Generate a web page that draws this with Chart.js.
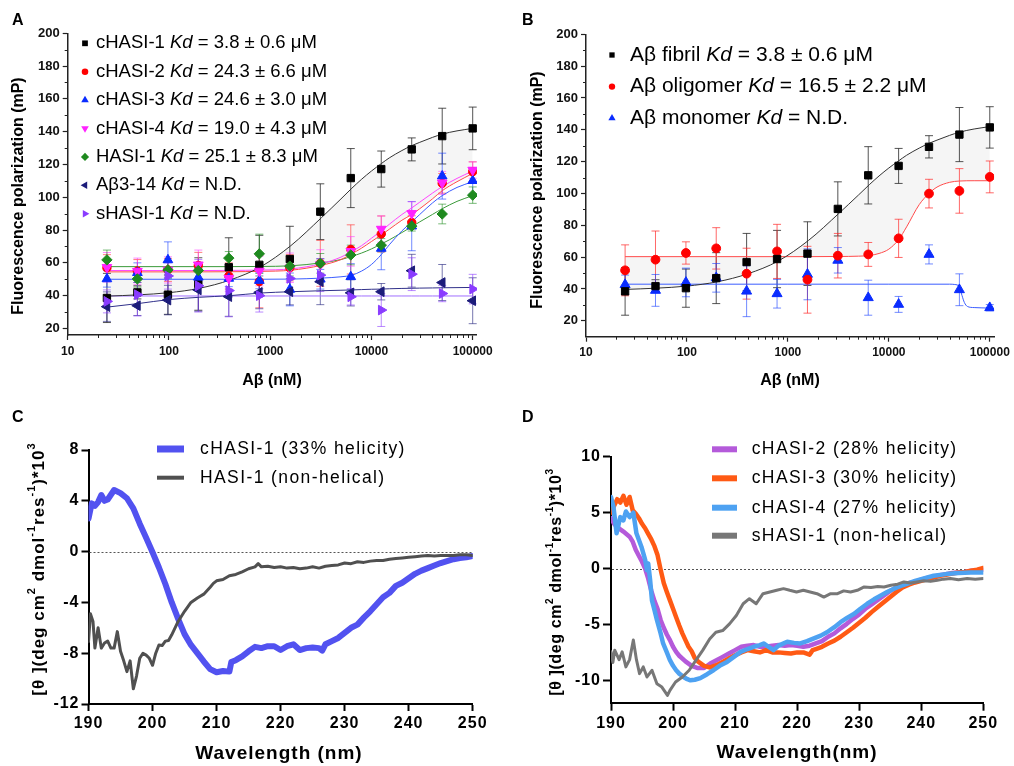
<!DOCTYPE html>
<html><head><meta charset="utf-8">
<script src="https://cdn.jsdelivr.net/npm/chart.js@4.4.1/dist/chart.umd.min.js"></script>
<style>
html,body{margin:0;padding:0;background:#fff;}
#wrap{position:relative;width:1014px;height:766px;overflow:hidden;background:#fff;}
#wrap canvas{position:absolute;left:0;top:0;}
</style></head><body>
<div id="wrap">
<canvas id="cA" width="1014" height="766"></canvas>
<canvas id="cB" width="1014" height="766"></canvas>
<canvas id="cC" width="1014" height="766"></canvas>
<canvas id="cD" width="1014" height="766"></canvas>
</div>
<script>
// ---------------- DATA ----------------
const CONC = [24.4, 48.8, 97.7, 195, 390, 781, 1563, 3125, 6250, 12500, 25000, 50000, 100000];

// Panel A points (mP) and SD
const A_CHASI1 = [38.6, 42, 40.6, 47.1, 57.3, 58.8, 62.3, 91.2, 111.7, 117.2, 129.2, 137.3, 142];
const A_CHASI1_ERR = [15, 4, 12, 16, 18, 18, 20, 17, 18, 11, 7, 17, 13];
const A_CHASI2 = [57, 55, 55.7, 58.4, 52, 48.6, 57, 59.7, 68.2, 77.6, 84.7, 108.5, 115.6];
const A_CHASI2_ERR = [8, 7, 7, 8, 8, 16, 8, 14, 15, 11, 4, 6, 6];
const A_CHASI3 = [50.2, 54, 61.8, 51.2, 50.5, 49.2, 43.8, 50, 51.5, 68.8, 82.4, 112.9, 110.1];
const A_CHASI3_ERR = [5, 6, 11, 5, 5, 5, 10, 6, 8, 13, 15, 14, 8];
const A_CHASI4 = [57.3, 54.9, 55.7, 58.8, 50.6, 55, 57, 59, 67, 80.6, 90.2, 108.8, 116.6];
const A_CHASI4_ERR = [9, 8, 8, 9, 8, 9, 9, 9, 9, 8, 7, 7, 5];
const A_HASI1 = [61.8, 50.2, 55.7, 55.3, 62.9, 65.5, 58, 59.7, 64.8, 70.8, 82.4, 89.8, 101.3];
const A_HASI1_ERR = [6, 5, 5, 5, 4, 12, 6, 6, 6, 4, 3, 6, 5];
const A_AB314 = [33.3, 33.9, 37.3, 43.5, 39.4, 42, 42.4, 48.5, 41.7, 42.4, 55.2, 48, 36.9];
const A_AB314_ERR = [9, 6, 9, 13, 12, 10, 8, 14, 8, 5, 10, 11, 14];
const A_SHASI1 = [36.5, 40.6, 52, 46, 43.1, 40, 50.5, 52.5, 39.3, 31.2, 53.1, 41.3, 44];
const A_SHASI1_ERR = [7, 13, 8, 16, 16, 10, 7, 10, 5, 10, 10, 5, 9];

// fitted curves
const FIT_X = [24.4, 50, 100, 200, 400, 800, 1600, 3200, 5000, 6400, 8000, 10000, 12500, 15000, 20000, 25000, 30000, 40000, 50000, 70000, 100000];
const FIT_CHASI1 = [39.7, 40.5, 41.8, 44.5, 49.5, 57.5, 70.5, 87.5, 99, 105.5, 111, 116, 120.5, 124, 128.5, 131.5, 133.5, 136.5, 138.5, 140.5, 142];
const FIT_CHASI2 = [54.5, 54.5, 54.5, 54.5, 54.6, 54.8, 55.5, 58.5, 62, 65.5, 69, 73, 77, 80.5, 86, 89.5, 93, 99, 104, 109.5, 114.5];
const FIT_CHASI3 = [50, 50, 50, 50, 50, 50, 50.1, 50.7, 51.5, 52.5, 55, 59, 65, 71, 79.5, 85, 89.5, 96.5, 101, 106, 109.5];
const FIT_CHASI4 = [55.3, 55.3, 55.3, 55.3, 55.4, 55.6, 56.3, 59.5, 63.5, 67, 70.5, 75, 79.5, 83.5, 89.5, 93.5, 97, 102.5, 106.5, 111.5, 116];
const FIT_HASI1 = [57.7, 57.7, 57.7, 57.7, 57.7, 57.8, 58.2, 60, 62, 64, 66, 68.5, 71.5, 74, 78.5, 82, 85, 89.5, 93, 97.5, 101];
const FIT_AB314 = [33, 35.2, 37.6, 39, 40, 41.6, 42.4, 43, 43.3, 43.5, 43.7, 43.9, 44, 44.2, 44.4, 44.5, 44.6, 44.7, 44.8, 44.9, 45];
const FIT_SHASI1 = [39.8, 39.8, 39.8, 39.8, 39.8, 39.8, 39.8, 39.8, 39.8, 39.8, 39.8, 39.8, 39.8, 39.8, 39.8, 39.8, 39.8, 39.8, 39.8, 39.8, 39.8];

const A_NAMES = ['cHASI-1', 'cHASI-2', 'cHASI-3', 'cHASI-4', 'HASI-1', 'A\u03b23-14', 'sHASI-1'];
const A_KD = ['3.8 \u00b1 0.6 \u03bcM', '24.3 \u00b1 6.6 \u03bcM', '24.6 \u00b1 3.0 \u03bcM', '19.0 \u00b1 4.3 \u03bcM', '25.1 \u00b1 8.3 \u03bcM', 'N.D.', 'N.D.'];

// Panel B
const B_FIBRIL = [38.5, 41.8, 40.5, 46.8, 56.9, 58.8, 62.2, 90.3, 111.4, 117.3, 129.3, 137, 141.5];
const B_FIBRIL_ERR = [15, 4, 12, 16, 18, 18, 20, 17, 18, 11, 7, 17, 13];
const B_OLIGO = [51.7, 58.4, 62.6, 65.5, 49.6, 63.6, 45.8, 60.9, 61.7, 71.8, 99.9, 101.6, 110.4];
const B_OLIGO_ERR = [16, 18, 7, 13, 16, 17, 21, 14, 7.5, 12, 9, 14, 10];
const B_MONO = [42.7, 39.1, 44.1, 47, 38.6, 37, 49.2, 58, 34.5, 30.3, 61.7, 39.5, 28.2];
const B_MONO_ERR = [6, 10, 9, 9, 16, 9, 16, 8, 11, 5, 6, 10, 2];
const FIT_FIBRIL = FIT_CHASI1;
const FIT_OLIGO = [60.3, 60.3, 60.3, 60.3, 60.3, 60.3, 60.3, 60.4, 60.6, 61, 62.3, 65, 71, 79, 93, 100, 104, 107, 107.8, 108, 108];
const FIT_MONO_X = [24.4, 1000, 10000, 40000, 45000, 50000, 53000, 56000, 60000, 70000, 100000];
const FIT_MONO = [43, 43, 43, 43, 42.8, 41.3, 36, 31.5, 29, 28.3, 28];
const B_NAMES = ['A\u03b2 fibril', 'A\u03b2 oligomer', 'A\u03b2 monomer'];
const B_KD = ['3.8 \u00b1 0.6 \u03bcM', '16.5 \u00b1 2.2 \u03bcM', 'N.D.'];

// ticks for A/B
const LOG_TICKS = [10, 100, 1000, 10000, 100000];
const LOG_TICK_LABELS = ['10', '100', '1000', '10000', '100000'];
const MP_TICKS = [20, 40, 60, 80, 100, 120, 140, 160, 180, 200];
const MP_TICK_LABELS = ['20', '40', '60', '80', '100', '120', '140', '160', '180', '200'];

// Panel C: CD spectra [wavelength nm, [theta]*10^-3]
const C_CHASI1 = [[190,2.6],[190.5,3.8],[191,3.6],[191.5,3.9],[192,4.45],[192.5,4.0],[193,4.1],[194,4.85],[195,4.6],[196,4.2],[197,3.4],[198,2.2],[199,1.1],[200,-0.05],[201,-1.25],[202,-2.55],[203,-4.0],[204,-5.3],[205,-6.5],[206,-7.35],[207,-8.0],[208,-8.65],[209,-9.25],[210,-9.5],[211,-9.4],[212,-9.45],[212.3,-8.7],[213,-8.55],[214,-8.25],[215,-7.85],[216,-7.5],[217,-7.6],[218,-7.45],[219,-7.45],[220,-7.75],[221,-7.45],[222,-7.3],[223,-7.75],[224,-7.6],[225,-7.55],[226,-7.6],[226.5,-7.8],[227,-7.3],[228,-7.05],[229,-6.8],[230,-6.4],[231,-6.0],[232,-5.75],[233,-5.2],[234,-4.7],[235,-4.15],[236,-3.6],[237,-3.25],[238,-2.7],[239,-2.45],[240,-2.1],[241,-1.75],[242,-1.5],[243,-1.3],[244,-1.1],[245,-0.9],[246,-0.75],[247,-0.6],[248,-0.5],[249,-0.45],[250,-0.35]];
const C_HASI1 = [[190,-7.1],[190.3,-4.9],[190.7,-5.5],[191,-7.6],[191.5,-6.0],[192,-7.6],[192.5,-7.2],[193,-7.05],[193.5,-7.6],[194,-7.6],[194.5,-6.3],[195,-7.85],[195.5,-8.6],[196,-9.45],[196.5,-8.6],[197,-10.8],[197.5,-9.8],[198,-8.4],[198.5,-8.0],[199,-8.15],[199.5,-8.4],[200,-8.95],[200.5,-8.0],[201,-7.35],[201.5,-7.4],[202,-7.05],[202.5,-7.0],[203,-6.55],[204,-5.5],[205,-4.7],[206,-4.0],[207,-3.65],[208,-3.35],[209,-2.8],[209.5,-2.5],[210,-2.3],[211,-2.2],[212,-1.9],[213,-1.8],[214,-1.6],[215,-1.35],[216,-1.2],[216.5,-0.95],[217,-1.2],[218,-1.15],[219,-1.25],[220,-1.2],[221,-1.3],[222,-1.25],[223,-1.35],[224,-1.3],[225,-1.2],[226,-1.3],[227,-1.15],[228,-1.1],[229,-1.05],[230,-0.9],[231,-0.95],[232,-0.8],[233,-0.85],[234,-0.75],[235,-0.7],[236,-0.7],[237,-0.6],[238,-0.55],[239,-0.5],[240,-0.45],[241,-0.4],[242,-0.35],[243,-0.3],[244,-0.35],[245,-0.3],[246,-0.3],[247,-0.3],[248,-0.25],[249,-0.25],[250,-0.3]];
const C_NAMES = ['cHASI-1 (33% helicity)', 'HASI-1 (non-helical)'];

// Panel D
const D_CHASI2 = [[190,4.5],[190.5,4.0],[191,3.7],[192,3.3],[193,2.85],[193.5,2.4],[194,1.65],[195,0.6],[195.5,0.0],[196,-0.9],[196.5,-2.0],[197,-2.9],[197.5,-3.6],[198,-4.6],[198.5,-5.3],[199,-5.9],[199.5,-6.4],[200,-7.0],[200.5,-7.45],[201,-7.8],[202,-8.3],[203,-8.7],[204,-8.9],[205,-8.9],[206,-8.5],[207,-8.2],[208,-7.9],[209,-7.6],[210,-7.3],[211,-7.0],[212,-6.9],[213,-6.85],[214,-7.0],[215,-7.0],[216,-6.9],[217,-6.85],[218,-6.9],[219,-6.85],[220,-6.9],[221,-7.0],[222,-6.9],[223,-6.7],[224,-6.5],[225,-6.1],[226,-5.8],[227,-5.35],[228,-4.95],[229,-4.5],[230,-4.1],[231,-3.6],[232,-3.2],[233,-2.8],[234,-2.4],[235,-2.0],[236,-1.7],[237,-1.45],[238,-1.3],[239,-1.2],[240,-1.0],[241,-0.85],[242,-0.75],[243,-0.6],[244,-0.5],[245,-0.4],[246,-0.35],[247,-0.3],[248,-0.2],[249,-0.15],[250,-0.1]];
const D_CHASI3 = [[190,5.0],[190.5,5.6],[191,6.2],[191.5,5.9],[192,6.5],[192.5,5.7],[193,6.4],[193.5,5.2],[194,4.9],[194.5,4.5],[195,4.0],[195.5,3.6],[196,3.1],[196.5,2.6],[197,2.0],[197.5,1.2],[198,-0.1],[198.5,-1.3],[199,-2.1],[199.5,-2.85],[200,-3.6],[200.5,-4.35],[201,-5.1],[201.5,-5.8],[202,-6.4],[202.5,-7.0],[203,-7.4],[203.5,-8.0],[204,-8.3],[205,-8.7],[206,-8.85],[207,-8.65],[208,-8.35],[209,-8.05],[210,-7.75],[211,-7.5],[212,-7.3],[213,-7.4],[214,-7.5],[215,-7.3],[216,-7.5],[217,-7.5],[218,-7.55],[219,-7.6],[220,-7.5],[221,-7.5],[222,-7.7],[222.5,-7.3],[223,-7.2],[224,-7.0],[225,-6.7],[226,-6.45],[227,-6.1],[228,-5.7],[229,-5.3],[230,-4.85],[231,-4.4],[232,-3.9],[233,-3.45],[234,-3.0],[235,-2.55],[236,-2.1],[237,-1.7],[238,-1.45],[239,-1.25],[240,-1.1],[241,-0.95],[242,-0.8],[243,-0.65],[244,-0.55],[245,-0.45],[246,-0.35],[247,-0.3],[248,-0.2],[249,-0.1],[250,0.05]];
const D_CHASI4 = [[190,6.4],[190.4,5.5],[190.9,3.15],[191.5,4.6],[192,4.3],[192.4,5.1],[193,4.6],[193.6,5.0],[194.1,3.15],[194.9,1.95],[195.5,0.8],[195.8,-0.15],[196,0.45],[196.3,-1.0],[196.6,-2.85],[197,-3.7],[197.4,-4.6],[198,-5.8],[198.4,-6.7],[199,-7.5],[199.5,-8.2],[200,-8.7],[200.5,-9.1],[201,-9.4],[201.7,-9.7],[202.3,-9.9],[202.8,-10.0],[203.5,-9.95],[204.4,-9.8],[205.5,-9.45],[206.5,-9.1],[207.5,-8.7],[208.7,-8.35],[209.8,-7.9],[210.9,-7.45],[212,-7.2],[213,-7.0],[214,-6.85],[214.6,-6.7],[215.4,-7.0],[216.2,-7.3],[217,-6.9],[218.4,-6.55],[219.5,-6.65],[220.5,-6.7],[221.6,-6.5],[222.7,-6.25],[223.8,-6.0],[224.8,-5.7],[226,-5.25],[227,-4.8],[228.1,-4.4],[229.2,-4.05],[230.2,-3.6],[231.3,-3.15],[232.4,-2.75],[233.5,-2.4],[234.5,-2.1],[235.6,-1.8],[236.7,-1.55],[237.8,-1.35],[239,-1.1],[240,-0.95],[242,-0.65],[244,-0.5],[246,-0.4],[248,-0.35],[250,-0.35]];
const D_SHASI1 = [[190,-7.45],[190.3,-8.4],[190.6,-7.3],[191.3,-8.15],[191.8,-7.45],[192.4,-8.8],[193,-8.15],[193.6,-6.4],[194.1,-8.15],[194.6,-9.4],[195.2,-8.8],[195.8,-9.7],[196.6,-9.1],[197.4,-10.3],[198.2,-10.6],[199.1,-11.35],[199.5,-10.9],[200.4,-10.15],[201.5,-9.7],[202.6,-9.1],[203.7,-8.2],[204.8,-7.3],[205.9,-6.3],[206.9,-5.7],[208,-5.55],[209.1,-4.95],[210.2,-4.2],[211.3,-3.15],[212.3,-2.7],[213.4,-3.15],[214.5,-2.25],[215.6,-2.1],[216.7,-1.95],[217.8,-1.8],[218.8,-1.95],[219.9,-2.1],[221,-1.95],[222.1,-2.1],[223.2,-2.25],[224.3,-2.55],[225.4,-2.25],[226.5,-2.25],[227.5,-2.0],[228.6,-2.1],[229.7,-1.95],[230.8,-1.65],[231.9,-1.7],[233,-1.6],[234,-1.65],[235.1,-1.5],[236.2,-1.4],[237.2,-1.2],[238.3,-1.3],[239.3,-1.2],[240.4,-1.1],[241.5,-1.15],[242.6,-1.05],[243.6,-0.95],[244.7,-0.9],[246,-1.0],[247.4,-0.9],[248.7,-0.95],[250,-0.9]];
const D_NAMES = ['cHASI-2 (28% helicity)', 'cHASI-3 (30% helicity)', 'cHASI-4 (27% helicity)', 'sHASI-1 (non-helical)'];

const WL_TICKS = [190, 200, 210, 220, 230, 240, 250];
const WL_TICK_LABELS = ['190', '200', '210', '220', '230', '240', '250'];
const C_Y_TICKS = [-12, -8, -4, 0, 4, 8];
const C_Y_TICK_LABELS = ['-12', '-8', '-4', '0', '4', '8'];
const D_Y_TICKS = [-10, -5, 0, 5, 10];
const D_Y_TICK_LABELS = ['-10', '-5', '0', '5', '10'];

const CD_YTITLE = [{t:'[\u03b8 ](deg cm'},{t:'2',sup:1},{t:' dmol'},{t:'-1',sup:1},{t:'res'},{t:'-1',sup:1},{t:')*10'},{t:'3',sup:1}];

// ---------------- HELPERS ----------------
const FAMILY = "'Liberation Sans', Arial, Helvetica, sans-serif";
Chart.defaults.font.family = FAMILY;
Chart.defaults.color = '#000';
const W = 1014, H = 766;

function txt(ctx, segs, x, y, o) {
  ctx.save();
  ctx.translate(x, y);
  if (o.rot) ctx.rotate(-Math.PI / 2);
  try { ctx.letterSpacing = (o.ls || 0) + 'px'; } catch (e) {}
  ctx.fillStyle = o.color || '#000';
  ctx.textBaseline = 'middle';
  ctx.textAlign = 'left';
  const fontOf = s => (s.i ? 'italic ' : '') + (o.w || 'normal') + ' ' + (s.sup ? Math.round(o.size * 0.62) : o.size) + 'px ' + FAMILY;
  let total = 0;
  const ws = segs.map(s => { ctx.font = fontOf(s); const w = ctx.measureText(s.t).width; total += w; return w; });
  let cx = o.align === 'center' ? -total / 2 : 0;
  segs.forEach((s, k) => { ctx.font = fontOf(s); ctx.fillText(s.t, cx, s.sup ? -o.size * 0.42 : 0); cx += ws[k]; });
  ctx.restore();
}
function marker(ctx, style, x, y, r, rot, color) {
  ctx.save(); ctx.fillStyle = color; ctx.translate(x, y); ctx.rotate((rot || 0) * Math.PI / 180); ctx.beginPath();
  if (style === 'rect') { const s = r * Math.SQRT1_2; ctx.rect(-s, -s, 2 * s, 2 * s); }
  else if (style === 'circle') ctx.arc(0, 0, r, 0, Math.PI * 2);
  else if (style === 'triangle') { for (let k = 0; k < 3; k++) { const a = k * 2 * Math.PI / 3; if (k === 0) ctx.moveTo(Math.sin(a) * r, -Math.cos(a) * r); else ctx.lineTo(Math.sin(a) * r, -Math.cos(a) * r); } ctx.closePath(); }
  else if (style === 'rectRot') { ctx.moveTo(0, -r); ctx.lineTo(r, 0); ctx.lineTo(0, r); ctx.lineTo(-r, 0); ctx.closePath(); }
  ctx.fill(); ctx.restore();
}
function pad(L, T, R, B, yW, xH) { return { left: L - yW, top: T, right: W - R, bottom: H - B - xH }; }
function fixTicks(vals) { return s => { s.ticks = vals.map(v => ({ value: v })); }; }

const errPlugin = {
  id: 'errbars',
  beforeDatasetsDraw(chart) {
    const ctx = chart.ctx, xs = chart.scales.x, ys = chart.scales.y;
    chart.data.datasets.forEach(ds => {
      if (!ds.errors) return;
      ctx.save(); ctx.strokeStyle = ds.errColor; ctx.lineWidth = 1;
      ds.data.forEach((p, j) => {
        const e = ds.errors[j]; if (!e) return;
        const px = xs.getPixelForValue(p.x), y1 = ys.getPixelForValue(p.y + e), y2 = ys.getPixelForValue(p.y - e);
        ctx.beginPath();
        ctx.moveTo(px, y1); ctx.lineTo(px, y2);
        ctx.moveTo(px - 4, y1); ctx.lineTo(px + 4, y1);
        ctx.moveTo(px - 4, y2); ctx.lineTo(px + 4, y2);
        ctx.stroke();
      });
      ctx.restore();
    });
  }
};
function minorTicksPlugin(yMinor) {
  return {
    id: 'minor',
    afterDraw(chart) {
      const ctx = chart.ctx, xs = chart.scales.x, ys = chart.scales.y, a = chart.chartArea;
      ctx.save(); ctx.strokeStyle = '#222'; ctx.lineWidth = 1; ctx.beginPath();
      [10, 100, 1000, 10000].forEach(d => { for (let k = 2; k <= 9; k++) { const px = Math.round(xs.getPixelForValue(k * d)) + 0.5; ctx.moveTo(px, a.bottom); ctx.lineTo(px, a.bottom + 3); } });
      yMinor.forEach(v => { const py = Math.round(ys.getPixelForValue(v)) + 0.5; ctx.moveTo(a.left - 3, py); ctx.lineTo(a.left, py); });
      ctx.stroke(); ctx.restore();
    }
  };
}

function ptSet(label, ys, errs, color, errColor, style, r, rot, order) {
  return { label, data: CONC.map((x, i) => ({ x, y: ys[i] })), errors: errs, errColor,
    showLine: false, pointStyle: style, pointRadius: r, pointHoverRadius: r, pointRotation: rot || 0,
    pointBackgroundColor: color, pointBorderColor: color, pointBorderWidth: 1, order };
}
function fitSet(label, xs, ys, color, order, extra) {
  return Object.assign({ label, data: xs.map((x, i) => ({ x, y: ys[i] })), showLine: true, borderColor: color, borderWidth: 1,
    pointRadius: 0, pointHoverRadius: 0, cubicInterpolationMode: 'monotone', fill: false, order }, extra || {});
}
function fpScales(L, T, R, B, yMin) {
  return {
    x: { type: 'logarithmic', min: 10, max: 110300, afterBuildTicks: fixTicks(LOG_TICKS), afterFit: s => { s.height = 30; },
      ticks: { callback: (v, i) => LOG_TICK_LABELS[i], font: { size: 12, weight: 'bold' }, color: '#111', padding: 4, autoSkip: false, maxRotation: 0 },
      grid: { display: true, drawOnChartArea: false, drawTicks: true, tickLength: 5, tickColor: '#222', tickWidth: 1.2 },
      border: { display: true, color: '#222', width: 1.5 } },
    y: { type: 'linear', min: yMin, max: 200, afterBuildTicks: fixTicks(MP_TICKS), afterFit: s => { s.width = 40; },
      ticks: { callback: (v, i) => MP_TICK_LABELS[i], font: { size: 13, weight: 'bold' }, color: '#111', padding: 3, autoSkip: false },
      grid: { display: true, drawOnChartArea: false, drawTicks: true, tickLength: 5, tickColor: '#222', tickWidth: 1.2 },
      border: { display: true, color: '#222', width: 1.5 } }
  };
}
const BASE = { responsive: false, animation: false, devicePixelRatio: 1, events: [] };
const FILL_GRAY = 'rgba(0,0,0,0.04)';

// ---------------- PANEL A ----------------
(function () {
  const L = 67.7, T = 33.3, R = 477, B = 335;
  const styles = [
    ['rect', 5.2, 0, '#000000', 'rgba(40,40,40,0.8)'],
    ['circle', 4.2, 0, '#ff0000', 'rgba(255,40,40,0.6)'],
    ['triangle', 5.6, 0, '#0a2cff', 'rgba(20,60,255,0.6)'],
    ['triangle', 5.6, 180, '#ff22ff', 'rgba(255,60,255,0.6)'],
    ['rectRot', 5.2, 0, '#1f8a1f', 'rgba(30,140,30,0.6)'],
    ['triangle', 5.6, -90, '#1c1c7a', 'rgba(28,28,122,0.6)'],
    ['triangle', 5.6, 90, '#8a3cff', 'rgba(140,60,255,0.6)']
  ];
  const pts = [A_CHASI1, A_CHASI2, A_CHASI3, A_CHASI4, A_HASI1, A_AB314, A_SHASI1];
  const errs = [A_CHASI1_ERR, A_CHASI2_ERR, A_CHASI3_ERR, A_CHASI4_ERR, A_HASI1_ERR, A_AB314_ERR, A_SHASI1_ERR];
  const fits = [FIT_CHASI1, FIT_CHASI2, FIT_CHASI3, FIT_CHASI4, FIT_HASI1, FIT_AB314, FIT_SHASI1];
  const fitCols = ['#333333', '#ff4a4a', '#3a5cff', '#ff44ff', '#3a9a3a', '#30308a', '#a070ff'];
  const datasets = [];
  fits.forEach((f, k) => datasets.push(fitSet(A_NAMES[k] + ' fit', FIT_X, f, fitCols[k], 20 + k)));
  datasets[0].fill = { target: 1, above: FILL_GRAY, below: FILL_GRAY };
  pts.forEach((p, k) => { const s = styles[k]; datasets.push(ptSet(A_NAMES[k], p, errs[k], s[3], s[4], s[0], s[1], s[2], 10 - k)); });
  new Chart(document.getElementById('cA'), {
    type: 'scatter', data: { datasets },
    options: Object.assign({}, BASE, {
      layout: { padding: pad(L, T, R, B, 40, 30) },
      scales: fpScales(L, T, R, B, 16),
      plugins: { legend: { display: false }, tooltip: { enabled: false }, filler: { drawTime: 'beforeDatasetsDraw' } }
    }),
    plugins: [errPlugin, minorTicksPlugin([30, 50, 70, 90, 110, 130, 150, 170, 190]), {
      id: 'decorA', afterDraw(chart) {
        const ctx = chart.ctx;
        txt(ctx, [{ t: 'A' }], 12, 21, { size: 16, w: 'bold' });
        txt(ctx, [{ t: 'Fluorescence polarization (mP)' }], 19, 196, { size: 16, w: 'bold', rot: true, align: 'center' });
        txt(ctx, [{ t: 'A\u03b2 (nM)' }], 272, 381, { size: 16, w: 'bold', align: 'center' });
        A_NAMES.forEach((n, k) => {
          const y = 43.3 + k * 28.4, s = styles[k];
          marker(ctx, s[0], 85, y, s[1] * 0.78, s[2], s[3]);
          txt(ctx, [{ t: n + ' ' }, { t: 'Kd', i: true }, { t: ' = ' + A_KD[k] }], 96, y, { size: 18.5 });
        });
      }
    }]
  });
})();

// ---------------- PANEL B ----------------
(function () {
  const L = 586, T = 34.3, R = 995, B = 336.7;
  const styles = [
    ['rect', 5.2, 0, '#000000', 'rgba(40,40,40,0.8)'],
    ['circle', 4.4, 0, '#ff0000', 'rgba(255,40,40,0.7)'],
    ['triangle', 5.8, 0, '#0a2cff', 'rgba(20,60,255,0.6)']
  ];
  const datasets = [
    fitSet('fibril fit', FIT_X, FIT_FIBRIL, '#333333', 20, { fill: { target: 1, above: FILL_GRAY, below: FILL_GRAY } }),
    fitSet('oligomer fit', FIT_X, FIT_OLIGO, '#ff4a4a', 21),
    fitSet('monomer fit', FIT_MONO_X, FIT_MONO, '#3a5cff', 22),
    ptSet(B_NAMES[0], B_FIBRIL, B_FIBRIL_ERR, styles[0][3], styles[0][4], 'rect', 5.2, 0, 3),
    ptSet(B_NAMES[1], B_OLIGO, B_OLIGO_ERR, styles[1][3], styles[1][4], 'circle', 4.4, 0, 4),
    ptSet(B_NAMES[2], B_MONO, B_MONO_ERR, styles[2][3], styles[2][4], 'triangle', 5.8, 0, 5)
  ];
  new Chart(document.getElementById('cB'), {
    type: 'scatter', data: { datasets },
    options: Object.assign({}, BASE, {
      layout: { padding: pad(L, T, R, B, 40, 30) },
      scales: fpScales(L, T, R, B, 10),
      plugins: { legend: { display: false }, tooltip: { enabled: false }, filler: { drawTime: 'beforeDatasetsDraw' } }
    }),
    plugins: [errPlugin, minorTicksPlugin([30, 50, 70, 90, 110, 130, 150, 170, 190]), {
      id: 'decorB', afterDraw(chart) {
        const ctx = chart.ctx;
        txt(ctx, [{ t: 'B' }], 522, 21, { size: 16, w: 'bold' });
        txt(ctx, [{ t: 'Fluorescence polarization (mP)' }], 537.5, 190, { size: 16, w: 'bold', rot: true, align: 'center' });
        txt(ctx, [{ t: 'A\u03b2 (nM)' }], 790, 381, { size: 16, w: 'bold', align: 'center' });
        B_NAMES.forEach((n, k) => {
          const y = 55 + k * 31.6, s = styles[k];
          marker(ctx, s[0], 612, y, s[1] * 0.72, s[2], s[3]);
          txt(ctx, [{ t: n + ' ' }, { t: 'Kd', i: true }, { t: ' = ' + B_KD[k] }], 630, y, { size: 21 });
        });
      }
    }]
  });
})();

// ---------------- CD panels ----------------
function cdScales(yMin, yMax, yTicks, yLabels, tl) {
  return {
    x: { type: 'linear', min: 190, max: 250, afterBuildTicks: fixTicks(WL_TICKS), afterFit: s => { s.height = 30; },
      ticks: { callback: (v, i) => WL_TICK_LABELS[i], font: { size: 16, weight: 'bold' }, color: '#000', padding: 3, autoSkip: false, maxRotation: 0 },
      grid: { display: true, drawOnChartArea: false, drawTicks: true, tickLength: tl, tickColor: '#000', tickWidth: 2 },
      border: { display: true, color: '#000', width: 2 } },
    y: { type: 'linear', min: yMin, max: yMax, afterBuildTicks: fixTicks(yTicks), afterFit: s => { s.width = 50; },
      ticks: { callback: (v, i) => yLabels[i], font: { size: 16, weight: 'bold' }, color: '#000', padding: 2, autoSkip: false },
      grid: { display: true, drawOnChartArea: false, drawTicks: true, tickLength: tl, tickColor: '#000', tickWidth: 2 },
      border: { display: true, color: '#000', width: 2 } }
  };
}
function cdLine(label, pts, color, width, order) {
  return { label, data: pts.map(p => ({ x: p[0], y: p[1] })), showLine: true, borderColor: color, borderWidth: width,
    pointRadius: 0, pointHoverRadius: 0, tension: 0, borderJoinStyle: 'round', borderCapStyle: 'round', fill: false, order };
}
function zeroLine(chart) {
  const ctx = chart.ctx, a = chart.chartArea, y = Math.round(chart.scales.y.getPixelForValue(0)) + 0.5;
  ctx.save(); ctx.strokeStyle = '#555'; ctx.lineWidth = 1; ctx.setLineDash([2, 2]);
  ctx.beginPath(); ctx.moveTo(a.left + 1, y); ctx.lineTo(a.right, y); ctx.stroke(); ctx.restore();
}
const spacing = { id: 'spacing', beforeDraw(chart) { try { chart.ctx.letterSpacing = '1px'; } catch (e) {} } };

// ---------------- PANEL C ----------------
(function () {
  const L = 88.5, T = 450, R = 472.7, B = 704;
  const cols = ['#5252f0', '#505050'], widths = [6, 3];
  new Chart(document.getElementById('cC'), {
    type: 'scatter',
    data: { datasets: [cdLine(C_NAMES[0], C_CHASI1, cols[0], widths[0], 2), cdLine(C_NAMES[1], C_HASI1, cols[1], widths[1], 1)] },
    options: Object.assign({}, BASE, {
      layout: { padding: pad(L, T, R, B, 50, 30) },
      scales: cdScales(-12, 8, C_Y_TICKS, C_Y_TICK_LABELS, 7),
      plugins: { legend: { display: false }, tooltip: { enabled: false } }
    }),
    plugins: [spacing, { id: 'zeroC', beforeDatasetsDraw: zeroLine }, {
      id: 'decorC', afterDraw(chart) {
        const ctx = chart.ctx;
        txt(ctx, [{ t: 'C' }], 12, 418, { size: 16, w: 'bold' });
        txt(ctx, CD_YTITLE, 39, 569, { size: 17, w: 'bold', rot: true, align: 'center', ls: 1 });
        txt(ctx, [{ t: 'Wavelength (nm)' }], 279, 754, { size: 19, w: 'bold', align: 'center', ls: 1 });
        C_NAMES.forEach((n, k) => {
          const y = k === 0 ? 449 : 477.7;
          ctx.save(); ctx.strokeStyle = cols[k]; ctx.lineWidth = k === 0 ? 7 : 4; ctx.beginPath(); ctx.moveTo(157, y); ctx.lineTo(184, y); ctx.stroke(); ctx.restore();
          txt(ctx, [{ t: n }], 200, y, { size: 17.5, ls: 1.4 });
        });
      }
    }]
  });
})();

// ---------------- PANEL D ----------------
(function () {
  const L = 611, T = 456.7, R = 983.3, B = 702.7;
  const cols = ['#b45ada', '#ff5a14', '#4ea2f2', '#777777'], widths = [4.5, 4.5, 4.5, 3];
  const sets = [D_CHASI2, D_CHASI3, D_CHASI4, D_SHASI1];
  new Chart(document.getElementById('cD'), {
    type: 'scatter',
    data: { datasets: sets.map((s, k) => cdLine(D_NAMES[k], s, cols[k], widths[k], 4 - k)) },
    options: Object.assign({}, BASE, {
      layout: { padding: pad(L, T, R, B, 50, 30) },
      scales: cdScales(-12, 10, D_Y_TICKS, D_Y_TICK_LABELS, 8),
      plugins: { legend: { display: false }, tooltip: { enabled: false } }
    }),
    plugins: [spacing, { id: 'zeroD', beforeDatasetsDraw: zeroLine }, {
      id: 'decorD', afterDraw(chart) {
        const ctx = chart.ctx;
        txt(ctx, [{ t: 'D' }], 522, 418, { size: 16, w: 'bold' });
        txt(ctx, CD_YTITLE, 557, 582, { size: 16, w: 'bold', rot: true, align: 'center', ls: 0.6 });
        txt(ctx, [{ t: 'Wavelength(nm)' }], 797, 753, { size: 19, w: 'bold', align: 'center', ls: 1 });
        const ys = [449.3, 478.3, 507.7, 535.7];
        D_NAMES.forEach((n, k) => {
          ctx.save(); ctx.strokeStyle = cols[k]; ctx.lineWidth = 6; ctx.beginPath(); ctx.moveTo(712, ys[k]); ctx.lineTo(737, ys[k]); ctx.stroke(); ctx.restore();
          txt(ctx, [{ t: n }], 751.7, ys[k], { size: 17.5, ls: 1.4 });
        });
      }
    }]
  });
})();
</script>
</body></html>
